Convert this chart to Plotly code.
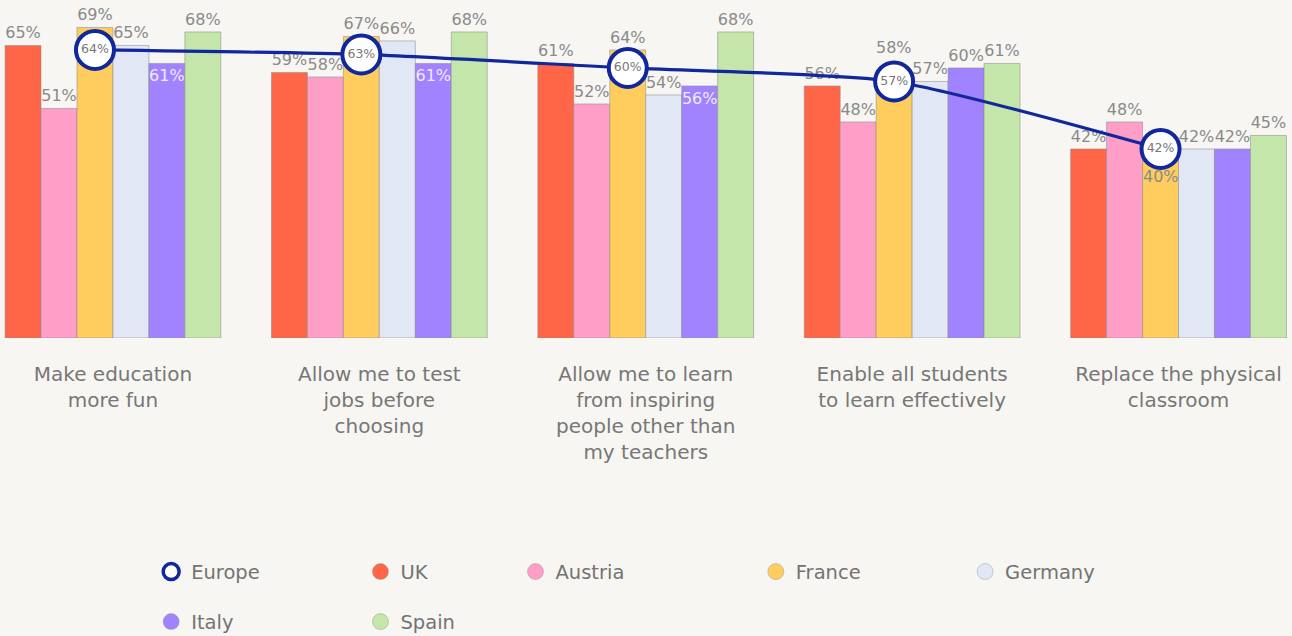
import plotly.graph_objects as go

# Survey statements (x categories) and their wrapped tick labels
categories = [
    "Make education more fun",
    "Allow me to test jobs before choosing",
    "Allow me to learn from inspiring people other than my teachers",
    "Enable all students to learn effectively",
    "Replace the physical classroom",
]
tick_labels = [
    "Make education<br>more fun",
    "Allow me to test<br>jobs before<br>choosing",
    "Allow me to learn<br>from inspiring<br>people other than<br>my teachers",
    "Enable all students<br>to learn effectively",
    "Replace the physical<br>classroom",
]

# Share of respondents agreeing (%)
europe = [64, 63, 60, 57, 42]
uk = [65, 59, 61, 56, 42]
austria = [51, 58, 52, 48, 48]
france = [69, 67, 64, 58, 40]
germany = [65, 66, 54, 57, 42]
italy = [61, 61, 56, 60, 42]
spain = [68, 68, 68, 61, 45]

countries = ["UK", "Austria", "France", "Germany", "Italy", "Spain"]
values = [uk, austria, france, germany, italy, spain]

colors = {
    "UK": "#ff6647",
    "Austria": "#ff9fc8",
    "France": "#ffcd5e",
    "Germany": "#e2e7f6",
    "Italy": "#a183ff",
    "Spain": "#c4e6aa",
}
navy = "#11279c"
label_grey = "#8a8a8a"
text_grey = "#777777"
bg = "#f7f6f2"
font_family = "DejaVu Sans, sans-serif"
LABEL_SIZE = 16

BARGAP = 0.19
n_series = len(countries)
slot = (1 - BARGAP) / n_series          # width of one bar in axis units
x_pos = list(range(len(categories)))    # numeric category positions

# Europe average is drawn over the France slot of each group
europe_slot = countries.index("France")
europe_shift = (europe_slot + 0.5) * slot - (1 - BARGAP) / 2

# labels drawn inside the bar top instead of above it
inside_labels = {"Italy": [0, 1, 2]}
inside_colors = {"Italy": "#efe9ff"}
# labels moved off the Europe markers: (series, group) -> vertical pixel shift from bar top
moved_labels = {("France", 3): 29, ("France", 4): -19}

fig = go.Figure()

for s_i, (name, vals) in enumerate(zip(countries, values)):
    idx_in = inside_labels.get(name, [])
    positions = ["inside" if i in idx_in else "outside" for i in range(len(vals))]
    texts = ["" if (name, i) in moved_labels else f"{v}%" for i, v in enumerate(vals)]
    fig.add_trace(go.Bar(
        x=x_pos,
        y=vals,
        name=name,
        marker=dict(color=colors[name], line=dict(color="rgba(140,140,140,0.55)", width=1)),
        text=texts,
        textposition=positions,
        textangle=0,
        insidetextanchor="end",
        constraintext="none",
        cliponaxis=False,
        insidetextfont=dict(color=inside_colors.get(name, label_grey), size=LABEL_SIZE, family=font_family),
        outsidetextfont=dict(color=label_grey, size=LABEL_SIZE, family=font_family),
        showlegend=False,
        hoverinfo="skip",
    ))
    bar_shift = (s_i + 0.5) * slot - (1 - BARGAP) / 2
    for i, v in enumerate(vals):
        if (name, i) in moved_labels:
            fig.add_annotation(
                x=x_pos[i] + bar_shift, y=v, yshift=moved_labels[(name, i)],
                text=f"{v}%", showarrow=False,
                font=dict(color=label_grey, size=LABEL_SIZE, family=font_family),
            )

# Europe average as a smooth line with ring markers
fig.add_trace(go.Scatter(
    x=[p + europe_shift for p in x_pos],
    y=europe,
    mode="lines+markers+text",
    line=dict(color=navy, width=3.2, shape="spline", smoothing=0.6),
    marker=dict(size=38, color="white", line=dict(color=navy, width=4)),
    text=[f"{v}%" for v in europe],
    textposition="middle center",
    textfont=dict(color=text_grey, size=12.5, family=font_family),
    cliponaxis=False,
    showlegend=False,
    hoverinfo="skip",
))

# Legend: one single-entry legend per swatch, laid out on two rows
legend_items = ["Europe", "UK", "Austria", "France", "Germany", "Italy", "Spain"]
legend_cols = [0.117, 0.279, 0.399, 0.585, 0.747, 0.117, 0.279]
legend_rows = [-0.692, -0.692, -0.692, -0.692, -0.692, -0.840, -0.840]

layout_legends = {}
for k, name in enumerate(legend_items):
    key = "legend" if k == 0 else f"legend{k + 1}"
    if name == "Europe":
        mk = dict(size=16, color="white", symbol="circle", line=dict(color=navy, width=3.5))
    else:
        mk = dict(size=16, color=colors[name], symbol="circle",
                  line=dict(color="rgba(140,140,140,0.4)", width=1))
    fig.add_trace(go.Scatter(
        x=[None], y=[None], mode="markers", name=name, marker=mk,
        legend=key, showlegend=True,
    ))
    layout_legends[key] = dict(
        orientation="h",
        xanchor="left",
        yanchor="middle",
        x=legend_cols[k],
        y=legend_rows[k],
        font=dict(family=font_family, size=19.5, color="#737373"),
        bgcolor="rgba(0,0,0,0)",
        itemclick=False,
    )

fig.update_layout(
    width=1292,
    height=636,
    margin=dict(l=0, r=0, t=0, b=298, autoexpand=False),
    paper_bgcolor=bg,
    plot_bgcolor=bg,
    barmode="group",
    bargap=BARGAP,
    bargroupgap=0,
    font=dict(family=font_family),
    xaxis=dict(
        range=[-0.424, 4.426],
        tickmode="array",
        tickvals=x_pos,
        ticktext=tick_labels,
        tickfont=dict(family=font_family, size=20, color=text_grey),
        ticks="",
        ticklabelstandoff=22,
        showgrid=False,
        showline=False,
        zeroline=False,
        automargin=False,
    ),
    yaxis=dict(
        range=[0, 75.1],
        visible=False,
        showgrid=False,
        zeroline=False,
        automargin=False,
    ),
    **layout_legends,
)

fig.write_html("out.html")
